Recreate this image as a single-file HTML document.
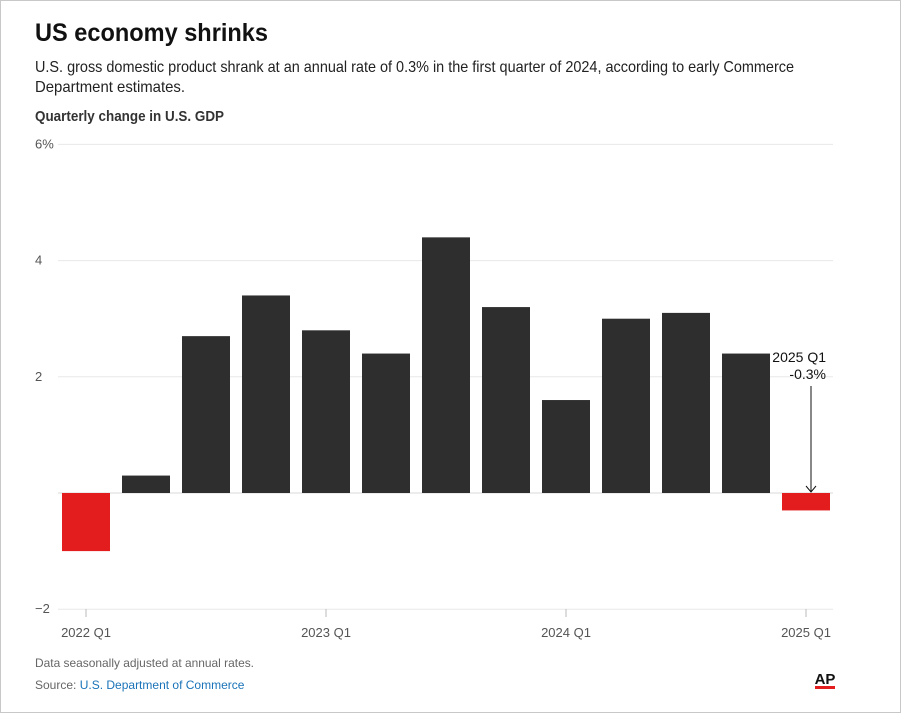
<!DOCTYPE html>
<html><head><meta charset="utf-8"><style>
body{margin:0;background:#fff;}
svg{display:block;font-family:"Liberation Sans",sans-serif;}
</style></head><body>
<svg id="c" width="901" height="713">
<rect x="0.5" y="0.5" width="900" height="712" fill="#fff" stroke="#c8c8c8"/>
<text x="35" y="41" font-size="25" font-weight="bold" fill="#111" textLength="233" lengthAdjust="spacingAndGlyphs">US economy shrinks</text>
<text x="35" y="72" font-size="16" fill="#222" textLength="759" lengthAdjust="spacingAndGlyphs">U.S. gross domestic product shrank at an annual rate of 0.3% in the first quarter of 2024, according to early Commerce</text>
<text x="35" y="92" font-size="16" fill="#222" textLength="150" lengthAdjust="spacingAndGlyphs">Department estimates.</text>
<text x="35" y="121" font-size="15" font-weight="bold" fill="#333" textLength="189" lengthAdjust="spacingAndGlyphs">Quarterly change in U.S. GDP</text>
<g id="grid"></g><g id="bars"></g><g id="xaxis"></g>
<text x="826" y="362" font-size="14" fill="#111" text-anchor="end">2025 Q1</text>
<text x="826" y="379" font-size="14" fill="#111" text-anchor="end">-0.3%</text>
<line x1="811" y1="386" x2="811" y2="492" stroke="#111" stroke-width="1"/>
<polyline points="806,486 811,492 816,486" fill="none" stroke="#111"/>
<text x="35" y="667" font-size="12" fill="#666" textLength="219" lengthAdjust="spacingAndGlyphs">Data seasonally adjusted at annual rates.</text>
<text x="35" y="689" font-size="12" fill="#666"><tspan>Source: </tspan><tspan fill="#1a73b8">U.S. Department of Commerce</tspan></text>
<text x="825" y="684" font-size="15" font-weight="bold" fill="#111" text-anchor="middle">AP</text>
<rect x="815" y="686" width="20" height="3" fill="#e31d1d"/>
</svg>
<script>
const categories=["2022 Q1","2022 Q2","2022 Q3","2022 Q4","2023 Q1","2023 Q2","2023 Q3","2023 Q4","2024 Q1","2024 Q2","2024 Q3","2024 Q4","2025 Q1"];
const values=[-1.0,0.3,2.7,3.4,2.8,2.4,4.4,3.2,1.6,3.0,3.1,2.4,-0.3];
const yTicks=[-2,2,4,6];
const yTickLabels=["\u22122","2","4","6%"];
const xTickLabels=["2022 Q1","2023 Q1","2024 Q1","2025 Q1"];
const NS="http://www.w3.org/2000/svg";
const y=v=>493-v*58.1;
const x0=62,step=60,bw=48;
const x=i=>x0+i*step;
function mk(tag,attrs,parent){const e=document.createElementNS(NS,tag);for(const k in attrs)e.setAttribute(k,attrs[k]);document.getElementById(parent).appendChild(e);return e;}
yTicks.forEach((t,i)=>{
 const l=mk('line',{x1:58,x2:833,y1:y(t),y2:y(t),stroke:'#e8e8e8'},'grid');
 
 
 const tx=mk('text',{x:35,y:y(t)+4,'font-size':13,fill:'#555'},'grid');
 tx.textContent=yTickLabels[i];
 
 
});
values.forEach((v,i)=>{
 const r=mk('rect',{x:x(i),width:bw,y:Math.min(y(v),y(0)),height:Math.abs(y(v)-y(0)),fill:v<0?'#e31d1d':'#2e2e2e'},'bars');
 
 
});
const z=mk('line',{x1:58,x2:833,y1:y(0),y2:y(0),stroke:'#d8d8d8'},'grid');


xTickLabels.forEach(lab=>{
 const i=categories.indexOf(lab);const cx=x(i)+bw/2;
 const t=mk('line',{x1:cx,x2:cx,y1:609,y2:617,stroke:'#bbb'},'xaxis');
 
 
 const tx=mk('text',{x:cx,y:637,'font-size':13,fill:'#555','text-anchor':'middle'},'xaxis');
 tx.textContent=lab;
 
 
});
</script>
</body></html>
